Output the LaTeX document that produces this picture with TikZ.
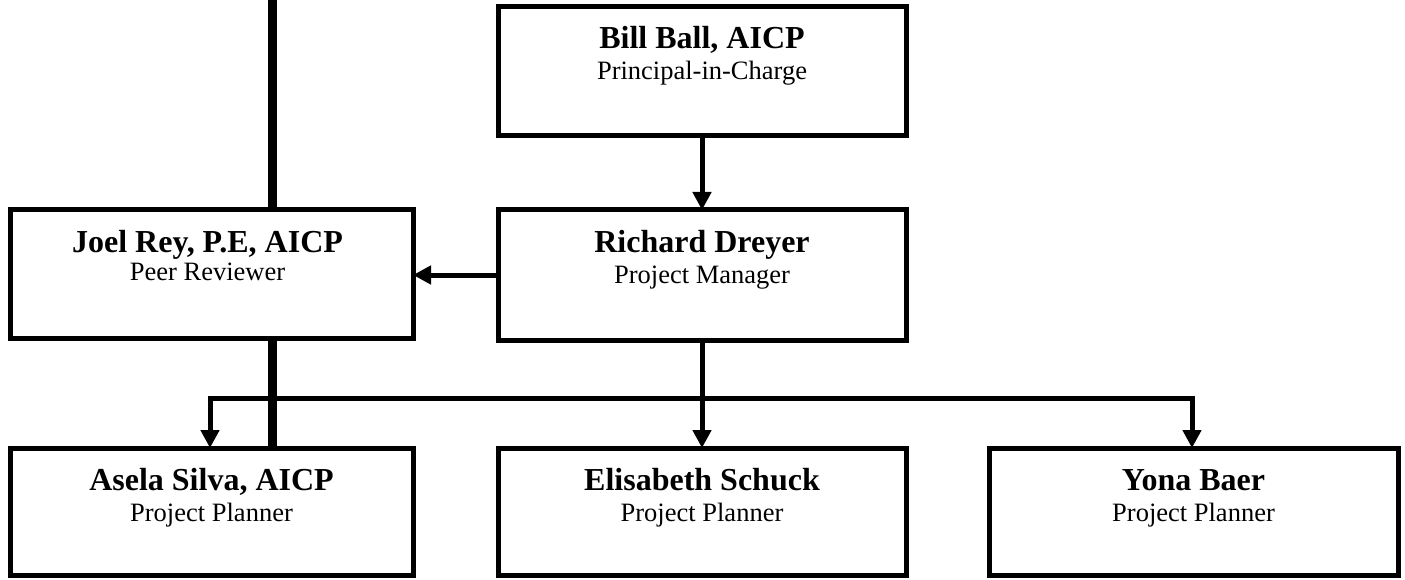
\documentclass[tikz,border=0pt]{standalone}
\usepackage{fontspec}
\setmainfont{Liberation Serif}
\usetikzlibrary{arrows.meta}
\begin{document}
\begin{tikzpicture}[x=1pt,y=-1pt,
  box/.style={draw=black, line width=5pt, fill=white, inner sep=0pt, outer sep=0pt},
  conn/.style={line width=5pt, -{Triangle[width=18pt,length=18pt]}},
  spine/.style={line width=9pt},
  bus/.style={line width=5pt, line cap=rect},
  nm/.style={font=\fontsize{32}{36}\selectfont\bfseries, anchor=base, inner sep=0pt},
  sub/.style={font=\fontsize{26.5}{30}\selectfont, anchor=base, inner sep=0pt}]
\useasboundingbox (0,0) rectangle (1405,580);
\fill[white] (0,0) rectangle (1405,580);

% boxes
\node[box, minimum width=408pt, minimum height=129pt] (bill) at (702,71.5) {};
\node[box, minimum width=403pt, minimum height=128pt] (joel) at (211.5,274) {};
\node[box, minimum width=408pt, minimum height=130pt] (richard) at (702,275) {};
\node[box, minimum width=403pt, minimum height=127pt] (asela) at (211.5,511.5) {};
\node[box, minimum width=408pt, minimum height=127pt] (elis) at (702,511.5) {};
\node[box, minimum width=409pt, minimum height=127pt] (yona) at (1193.5,511.5) {};

% texts
\node[nm]  (billN) at ([yshift=-42pt]bill.north) {Bill Ball, AICP};
\node[sub] (billS) at ([yshift=-73pt]bill.north) {Principal-in-Charge};
\node[nm]  (joelN) at ([xshift=-4pt,yshift=-42pt]joel.north) {Joel Rey, P.E, AICP};
\node[sub] (joelS) at ([xshift=-4pt,yshift=-70pt]joel.north) {Peer Reviewer};
\node[nm]  (richN) at ([yshift=-42pt]richard.north) {Richard Dreyer};
\node[sub] (richS) at ([yshift=-73pt]richard.north) {Project Manager};
\node[nm]  (aselaN) at ([yshift=-42pt]asela.north) {Asela Silva, AICP};
\node[sub] (aselaS) at ([yshift=-73pt]asela.north) {Project Planner};
\node[nm]  (elisN) at ([yshift=-42pt]elis.north) {Elisabeth Schuck};
\node[sub] (elisS) at ([yshift=-73pt]elis.north) {Project Planner};
\node[nm]  (yonaN) at ([yshift=-42pt]yona.north) {Yona Baer};
\node[sub] (yonaS) at ([yshift=-73pt]yona.north) {Project Planner};

% spine on the left
\coordinate (topL) at (272,0);
\draw[spine] (topL) -- (topL |- joel.north);
\draw[spine] (topL |- joel.south) -- (topL |- asela.north);

% connectors
\draw[conn] (bill.south) -- (richard.north);
\draw[conn] (richard.west) -- (richard.west -| joel.east);
\coordinate (busL) at (210,398);
\coordinate (busR) at (1192,398);
\draw[bus] (busL) -- (busR);
\draw[conn] (richard.south) -- (elis.north);
\draw[conn] (busL) -- (busL |- asela.north);
\draw[conn] (busR) -- (busR |- yona.north);
\end{tikzpicture}
\end{document}
